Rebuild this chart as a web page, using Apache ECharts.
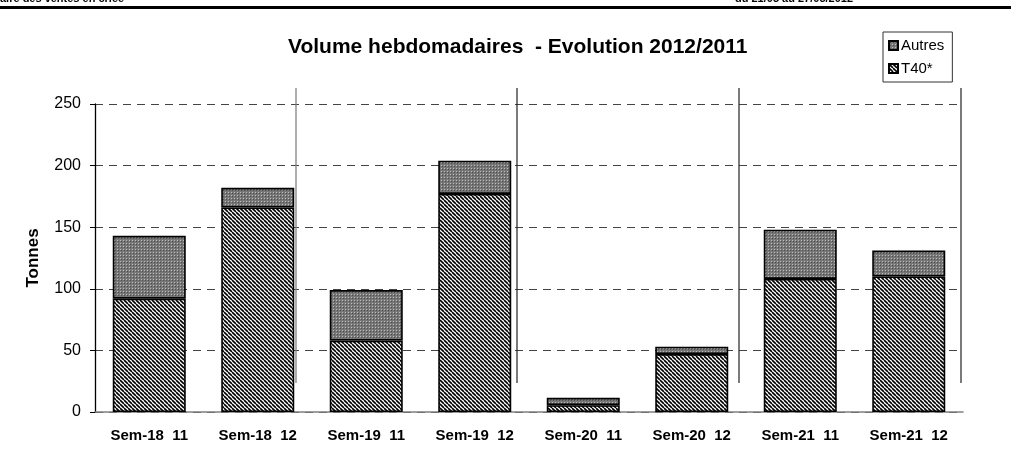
<!DOCTYPE html>
<html>
<head>
<meta charset="utf-8">
<script src="https://cdn.jsdelivr.net/npm/echarts@6/dist/echarts.min.js"></script>
<style>
html,body{margin:0;padding:0;background:#fff;}
#c{width:1011px;height:465px;}
</style>
</head>
<body>
<div id="c"></div>
<script>
var categories = ['Sem-18  11','Sem-18  12','Sem-19  11','Sem-19  12','Sem-20  11','Sem-20  12','Sem-21  11','Sem-21  12'];
var t40 = [92, 166, 58, 177, 5.5, 47, 108, 110];
var autres = [51, 16, 41, 27, 6, 6, 40, 21];
var yTicks = [0, 50, 100, 150, 200, 250];

var FONT = 'Arial, "Liberation Sans", sans-serif';

function stripePattern(){
  var c = document.createElement('canvas');
  c.width = 4; c.height = 4;
  var g = c.getContext('2d');
  g.fillStyle = '#fff'; g.fillRect(0,0,4,4);
  g.strokeStyle = '#000'; g.lineWidth = 1.6;
  for (var o=-8;o<=8;o+=4){
    g.beginPath(); g.moveTo(o,0); g.lineTo(o+4,4); g.stroke();
  }
  return {image:c, repeat:'repeat'};
}
function dotPattern(){
  var c = document.createElement('canvas');
  c.width = 3; c.height = 3;
  var g = c.getContext('2d');
  g.fillStyle = '#767676'; g.fillRect(0,0,3,3);
  g.fillStyle = '#bdbdbd'; g.fillRect(0,0,1,1);
  g.fillStyle = '#505050'; g.fillRect(1,1,1,1);
  return {image:c, repeat:'repeat'};
}

var chart = echarts.init(document.getElementById('c'), null, {renderer:'canvas'});
var sepLines = [296, 517, 739, 961].map(function(x, i){
  return {type:'line', shape:{x1:x, y1:88, x2:x, y2:383}, style:{stroke: i===0 ? '#777' : '#222', lineWidth:1.2}, z:5};
});
chart.setOption({
  animation:false,
  backgroundColor:'#fff',
  title:{
    text:'Volume hebdomadaires  - Evolution 2012/2011',
    left:283, top:32,
    textStyle:{fontFamily:FONT, fontSize:21, fontWeight:'bold', color:'#000'}
  },
  legend:{
    data:['Autres','T40*'],
    orient:'vertical', left:883, top:32,
    borderColor:'#333', borderWidth:1, padding:[6,8,6,5],
    itemWidth:9, itemHeight:9, itemGap:8,
    textStyle:{fontFamily:FONT, fontSize:15, color:'#000', padding:[0,0,0,-2]},
    icon:'rect'
  },
  grid:{left:95, right:48, top:104, bottom:53},
  xAxis:{
    type:'category', data:categories,
    axisLine:{lineStyle:{color:'#808080', width:1.5}},
    axisTick:{length:7, lineStyle:{color:'#555', width:1.2}},
    axisLabel:{fontFamily:FONT, fontSize:15, fontWeight:'bold', color:'#000', margin:16}
  },
  yAxis:{
    type:'value', min:0, max:250, interval:50,
    name:'Tonnes', nameLocation:'middle', nameGap:53,
    nameTextStyle:{fontFamily:FONT, fontSize:17, fontWeight:'bold', color:'#000'},
    axisLine:{show:true, lineStyle:{color:'#000', width:1.3}},
    axisTick:{show:true, length:5, lineStyle:{color:'#000'}},
    axisLabel:{fontFamily:FONT, fontSize:16, color:'#000', margin:14,
      formatter:function(v){ return yTicks.indexOf(v) >= 0 ? String(v) : ''; }},
    splitLine:{lineStyle:{color:'#444', type:[8,6], width:1}}
  },
  graphic:[
    {type:'rect', shape:{x:0, y:6, width:1011, height:3}, style:{fill:'#000'}},
    {type:'text', left:0, top:-7, style:{text:'aire des ventes en criée', font:'bold 11px ' + FONT, fill:'#000'}},
    {type:'text', left:735, top:-7, style:{text:'du 21/05 au 27/05/2012', font:'bold 11px ' + FONT, fill:'#000'}}
  ].concat(sepLines),
  series:[
    {name:'T40*', type:'bar', stack:'a', data:t40, barWidth:73,
     itemStyle:{color:stripePattern(), borderColor:'#000', borderWidth:1.6}},
    {name:'Autres', type:'bar', stack:'a', data:autres, barWidth:73,
     itemStyle:{color:dotPattern(), borderColor:'#000', borderWidth:1.6}}
  ]
});
</script>
</body>
</html>
